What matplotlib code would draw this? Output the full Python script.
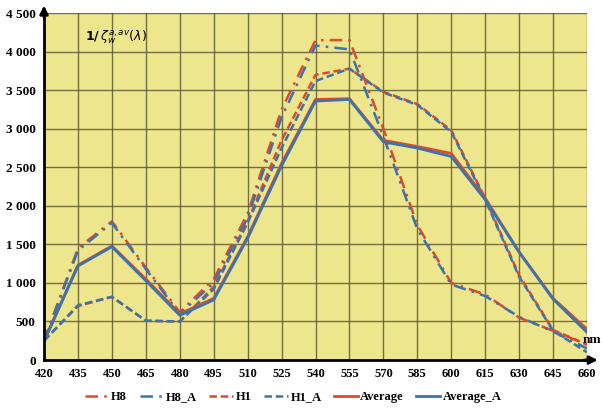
import numpy as np
import matplotlib.pyplot as plt

# wavelength grid (nm)
wl = [420, 435, 450, 465, 480, 495, 510, 525, 540, 555, 570, 585, 600, 615, 630, 645, 660]

# series
h8 = [250, 1450, 1800, 1200, 620, 1050, 1900, 3250, 4150, 4150, 3000, 1750, 1000, 850, 550, 380, 200]
h8_a = [250, 1420, 1780, 1180, 600, 1000, 1850, 3150, 4080, 4030, 2900, 1700, 980, 830, 560, 370, 150]
h1 = [250, 700, 820, 510, 500, 950, 1800, 2850, 3700, 3780, 3480, 3320, 2980, 2100, 1100, 390, 200]
h1_a = [250, 710, 820, 510, 500, 920, 1780, 2750, 3620, 3780, 3470, 3310, 2960, 2080, 1080, 380, 100]
avg = [250, 1230, 1480, 1050, 600, 800, 1600, 2550, 3380, 3390, 2850, 2770, 2680, 2100, 1400, 800, 400]
avg_a = [240, 1220, 1470, 1030, 580, 780, 1580, 2520, 3360, 3380, 2830, 2750, 2640, 2080, 1400, 790, 360]

red = '#DE4A2C'
blue = '#3A74AC'
serif = 'Liberation Serif'

fig = plt.figure(figsize=(6.02, 4.11), dpi=100)
ax = fig.add_axes([0.0731, 0.124, 0.902, 0.844])
ax.set_facecolor('#EDE68C')

dashdot = (0, (5, 2.5, 1, 2.5))
dashed = (0, (3, 1.5))
ax.plot(wl, h8, color=red, lw=1.8, linestyle=dashdot, label='H8')
ax.plot(wl, h8_a, color=blue, lw=1.8, linestyle=dashdot, label='H8_A')
ax.plot(wl, h1, color=red, lw=1.8, linestyle=dashed, label='H1')
ax.plot(wl, h1_a, color=blue, lw=1.8, linestyle=dashed, label='H1_A')
ax.plot(wl, avg, color=red, lw=2, label='Average')
ax.plot(wl, avg_a, color=blue, lw=2, label='Average_A')

ax.set_xlim(420, 660)
ax.set_ylim(0, 4500)
ax.set_xticks(wl)
ax.set_yticks(np.arange(0, 4501, 500))
ax.set_xticklabels([str(w) for w in wl], fontfamily=serif, fontweight='bold', fontsize=9)
ax.set_yticklabels([f'{v:,}'.replace(',', ' ') for v in range(0, 4501, 500)],
                   fontfamily=serif, fontweight='bold', fontsize=9.5)
ax.tick_params(length=0, pad=6)
ax.grid(True, color='#55512F', lw=1, alpha=0.8)
ax.set_axisbelow(True)
for s in ['top', 'right']:
    ax.spines[s].set_visible(False)
ax.spines['left'].set_linewidth(2)
ax.spines['bottom'].set_linewidth(2)

# axis arrows
ax.annotate('', xy=(0, 1.03), xytext=(0, 0.98), xycoords='axes fraction',
            arrowprops=dict(arrowstyle='-|>', color='black', lw=2, mutation_scale=12))
ax.annotate('', xy=(1.025, 0), xytext=(0.99, 0), xycoords='axes fraction',
            arrowprops=dict(arrowstyle='-|>', color='black', lw=2, mutation_scale=12))

ax.text(0.075, 0.955, r'$\mathbf{1/}\,\zeta_w^{a,av}(\lambda)$', transform=ax.transAxes,
        fontsize=9, family='serif', va='top', ha='left')
fig.text(0.999, 0.173, 'nm', fontsize=9.5, fontfamily=serif, fontweight='bold',
         ha='right', va='center')

leg = fig.legend(loc='lower center', bbox_to_anchor=(0.487, -0.008), ncol=6, frameon=False,
                 prop={'family': serif, 'weight': 'bold', 'size': 9},
                 handlelength=1.9, columnspacing=1.0, handletextpad=0.2)

fig.savefig('out.png', dpi=100)
